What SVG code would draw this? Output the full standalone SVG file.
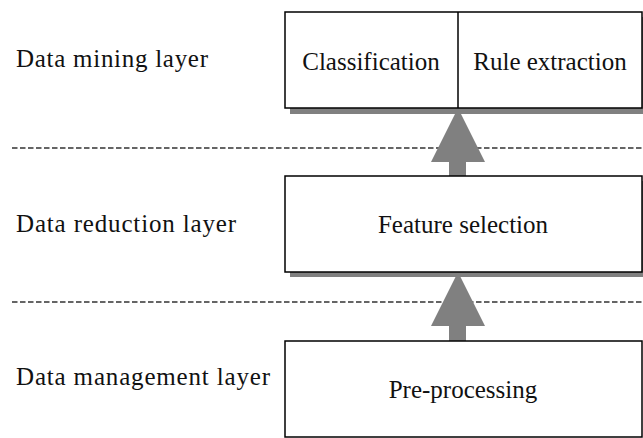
<svg xmlns="http://www.w3.org/2000/svg" width="643" height="438" viewBox="0 0 643 438">
<style>
.t{font-family:"Liberation Serif","Times New Roman",serif;font-size:25px;fill:#111}
.box{fill:#fff;stroke:#000;stroke-width:1.5}
.sh{fill:#808080}
.dash{stroke:#333;stroke-width:1.5;stroke-dasharray:5.5 2.5;fill:none}
.arr{fill:#808080}
</style>
<rect width="643" height="438" fill="#fff"/>
<g id="separators">
<line class="dash" x1="12" y1="148" x2="643" y2="148"/>
<line class="dash" x1="12" y1="302" x2="643" y2="302"/>
</g>
<g id="layer-labels">
<text class="t" x="16" y="67" textLength="192" lengthAdjust="spacing">Data mining layer</text>
<text class="t" x="16" y="232" textLength="220" lengthAdjust="spacing">Data reduction layer</text>
<text class="t" x="16" y="385" textLength="254" lengthAdjust="spacing">Data management layer</text>
</g>
<g id="connectors">
<polygon class="arr" points="458,108 485,162 466,162 466,177 449,177 449,162 431,162"/>
<polygon class="arr" points="458,272 485,326 466,326 466,342 449,342 449,326 431,326"/>
</g>
<g id="mining">
<rect class="sh" x="290" y="17" width="357" height="97"/>
<rect class="box" x="285" y="12" width="357" height="96"/>
<line x1="458" y1="12" x2="458" y2="108" stroke="#000" stroke-width="1.5"/>
<text class="t" x="371" y="70" text-anchor="middle">Classification</text>
<text class="t" x="550" y="70" text-anchor="middle">Rule extraction</text>
</g>
<g id="reduction">
<rect class="sh" x="290" y="181" width="357" height="96"/>
<rect class="box" x="285" y="176" width="357" height="96"/>
<text class="t" x="463" y="233" text-anchor="middle">Feature selection</text>
</g>
<g id="management">
<rect class="box" x="285" y="341" width="357" height="96"/>
<text class="t" x="463" y="398" text-anchor="middle">Pre-processing</text>
</g>
</svg>
